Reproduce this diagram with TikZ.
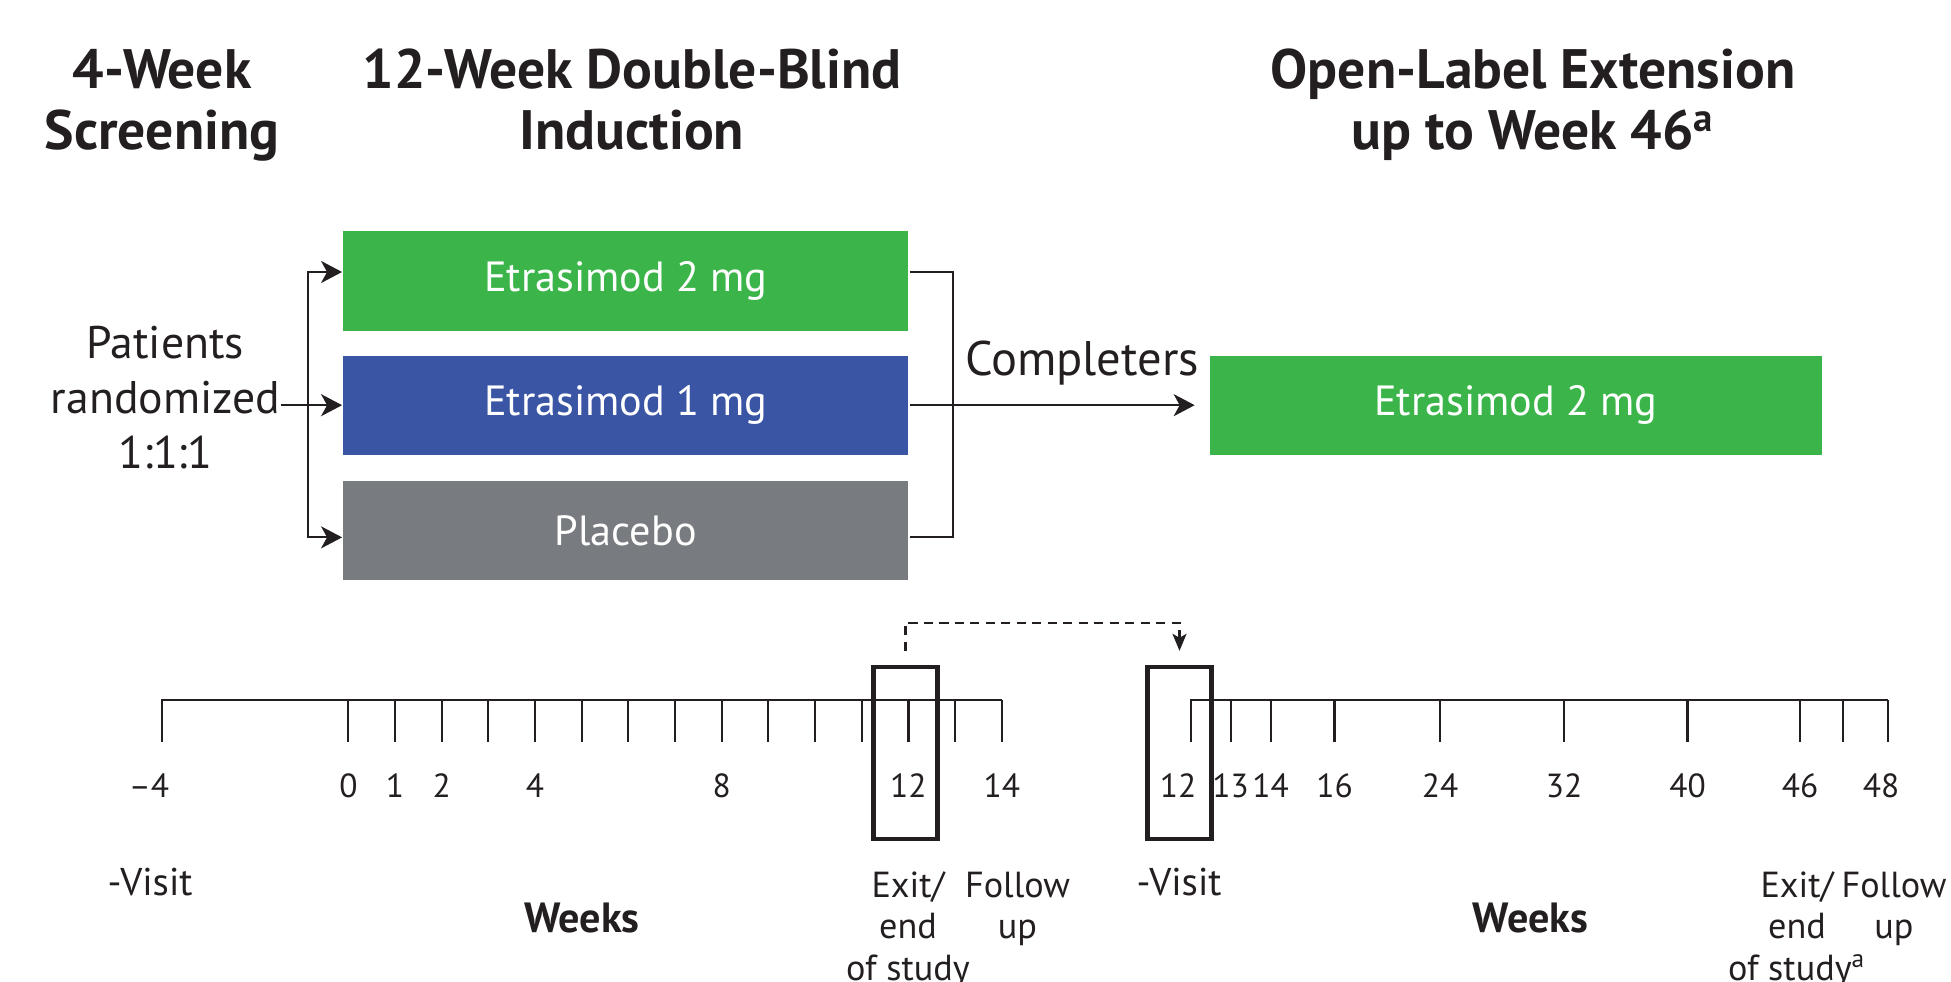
\documentclass[tikz,border=0pt]{standalone}
\usepackage{fontspec}
\setmainfont{PT Sans}
\usetikzlibrary{positioning,arrows.meta}
\definecolor{armgreen}{RGB}{59,181,74}
\definecolor{armblue}{RGB}{58,85,164}
\definecolor{armgray}{RGB}{120,123,127}
\definecolor{ink}{RGB}{35,31,32}

\begin{document}
\begin{tikzpicture}[x=0.01cm,y=-0.01cm,line width=0.6pt,color=ink,
    arm/.style={inner sep=0pt,minimum width=5.65cm,minimum height=0.99cm,text=white,font=\fontsize{12}{14}\selectfont},
    head/.style={inner sep=0pt,anchor=north,align=center,font=\fontsize{15.8}{17.4}\selectfont\bfseries},
    note/.style={inner sep=0pt,align=center,font=\fontsize{10.3}{11.7}\selectfont},
    wk/.style={inner sep=0pt,anchor=base,font=\fontsize{9.5}{11}\selectfont},
    wkhead/.style={inner sep=0pt,anchor=base,font=\fontsize{12}{14}\selectfont\bfseries},
    frame/.style={draw,line width=1.2pt,minimum width=0.64cm,minimum height=1.72cm,inner sep=0pt},
    arr/.style={-{Stealth[length=2.1mm,width=2.2mm,inset=0.6mm]}},
    jump/.style={dash pattern=on 2.6pt off 1.8pt,-{Stealth[length=1.7mm,width=1.4mm,inset=0.4mm]}}]

\useasboundingbox (0,0) rectangle (1951,982);

\node[head] (scr) at (162,48) {4-Week\\Screening};
\node[head] (dbl) at (632,48) {12-Week Double-Blind\\Induction};
\node[head] (ext) at (1533,48) {Open-Label Extension\\up to Week 46\textsuperscript{a}};

\node[arm,fill=armgreen] (dose2) at (625.8,281) {Etrasimod 2 mg};
\node[arm,fill=armblue,below=0.23cm of dose2] (dose1) {Etrasimod 1 mg};
\node[arm,fill=armgray,below=0.24cm of dose1] (pbo) {Placebo};
\node[arm,fill=armgreen,minimum width=6.12cm,right=2.99cm of dose1] (ole) {Etrasimod 2 mg};

\node[inner sep=0pt,anchor=north,align=center,font=\fontsize{13}{15.6}\selectfont] (rand) at (165.5,325) {Patients\\randomized\\1:1:1};
\node[inner sep=0pt,anchor=base,font=\fontsize{13.8}{16}\selectfont] (compl) at (1082,375) {Completers};

\coordinate (split) at (307.7,403);
\coordinate (merge) at (953,403);
\draw[arr] (rand.east |- dose1.west) -- (dose1.west);
\draw[arr] (split) |- ([yshift=0.09cm]dose2.west);
\draw[arr] (split) |- ([yshift=-0.07cm]pbo.west);
\draw ([yshift=0.09cm]dose2.east) -| (merge) |- ([yshift=-0.07cm]pbo.east);
\draw[arr] (dose1.east) -- ([xshift=-0.14cm]ole.west);

\draw (162,742) -- (162,700) -- (1001.7,700);
\foreach \w in {0,...,14} \draw ({348.4+46.67*\w},700) -- ++(0,42);
\foreach \w in {0,1,2,4,8,12,14} \node[wk] at ({348.4+46.67*\w},797) {\w};
\node[wk] at (149,797) {--4};

\draw (1190.8,742) -- (1190.8,700) -- (1888,700);
\foreach \x in {1230.6,1270.6,1334.5,1440,1564,1687.5,1800,1843,1888} \draw (\x,700) -- ++(0,42);
\foreach \x/\w in {1178/12,1230.6/13,1270.6/14,1334.5/16,1440/24,1564/32,1687.5/40,1800/46,1881/48} \node[wk] at (\x,797) {\w};

\node[frame] (exitA) at (905.5,753) {};
\node[frame] (visitB) at (1179.5,753) {};
\draw[jump] ([yshift=0.14cm]exitA.north) -- ++(0,-28) -| ([yshift=0.14cm]visitB.north);

\node[note,anchor=base,font=\fontsize{11}{12}\selectfont] (visA) at (150,895.7) {-Visit};
\node[wkhead] (wksA) at (582,932) {Weeks};
\node[note,anchor=north] (endA) at (908,871) {Exit/\\end\\of study};
\node[note,anchor=north] (fupA) at (1017.5,871) {Follow\\up};
\node[note,anchor=base,font=\fontsize{11}{12}\selectfont] (visB) at (1179,895.7) {-Visit};
\node[wkhead] (wksB) at (1530.5,932) {Weeks};
\node[note,anchor=north] (endB) at (1797,871) {Exit/\\end\\of study\textsuperscript{a}};
\node[note,anchor=north] (fupB) at (1894,871) {Follow\\up};
\end{tikzpicture}
\end{document}
